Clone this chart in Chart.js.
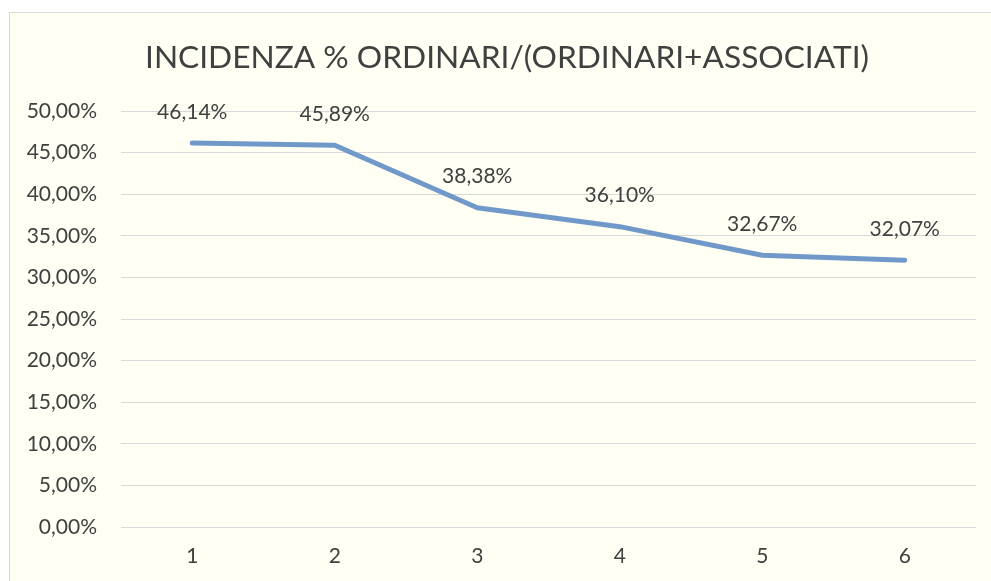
<!DOCTYPE html>
<html><head><meta charset="utf-8">
<script src="https://cdn.jsdelivr.net/npm/chart.js@4/dist/chart.umd.min.js"></script>
<style>html,body{margin:0;padding:0;background:#fff;}#wrap{width:991px;height:581px;position:relative;}</style>
</head><body><div id="wrap"><canvas id="c" width="991" height="581"></canvas></div>
<script>
const categories = ['1','2','3','4','5','6'];
const values = [46.14, 45.89, 38.38, 36.10, 32.67, 32.07];
const titleText = 'INCIDENZA % ORDINARI/(ORDINARI+ASSOCIATI)';
const fmt = v => v.toFixed(2).replace('.', ',') + '%';
const FONT = 'Lato, "Open Sans", sans-serif';
const TXT = '#404040';

const bgPlugin = {
  id: 'bg',
  beforeDraw(chart) {
    const ctx = chart.ctx;
    ctx.save();
    ctx.fillStyle = '#fffff4';
    ctx.fillRect(9.5, 12.5, chart.width, chart.height);
    ctx.strokeStyle = '#d9d9d9';
    ctx.lineWidth = 1;
    ctx.strokeRect(9.5, 12.5, chart.width, chart.height);
    ctx.restore();
  }
};
const titlePlugin = {
  id: 'ttl',
  afterDraw(chart) {
    const ctx = chart.ctx;
    ctx.save();
    ctx.font = '31.7px ' + FONT;
    ctx.fillStyle = TXT;
    ctx.textAlign = 'center';
    ctx.textBaseline = 'alphabetic';
    ctx.fillText(titleText, 507, 68);
    ctx.restore();
  }
};
const labelPlugin = {
  id: 'lbls',
  afterDatasetsDraw(chart) {
    const ctx = chart.ctx;
    const meta = chart.getDatasetMeta(0);
    ctx.save();
    ctx.font = '21px ' + FONT;
    ctx.fillStyle = TXT;
    ctx.textAlign = 'center';
    ctx.textBaseline = 'middle';
    meta.data.forEach((p, i) => {
      ctx.fillText(fmt(values[i]), p.x, p.y - 31);
    });
    ctx.restore();
  }
};

new Chart(document.getElementById('c'), {
  type: 'line',
  data: {
    labels: categories,
    datasets: [{
      data: values,
      borderColor: '#7099c9',
      borderWidth: 5,
      pointRadius: 0,
      tension: 0,
      borderCapStyle: 'round',
      borderJoinStyle: 'round'
    }]
  },
  options: {
    responsive: false,
    animation: false,
    devicePixelRatio: 1,
    layout: { padding: { left: 0, right: 15, top: 111, bottom: 0 } },
    plugins: {
      legend: { display: false },
      tooltip: { enabled: false },
      title: { display: false }
    },
    scales: {
      x: {
        offset: true,
        grid: { display: false, drawTicks: false },
        border: { display: false },
        ticks: { color: TXT, font: { family: FONT, size: 21 }, padding: 17 },
        afterFit: s => { s.height = 54; }
      },
      y: {
        min: 0, max: 50,
        grid: { color: '#d9d9d9', lineWidth: 1, drawTicks: false },
        border: { display: false },
        ticks: { stepSize: 5, color: TXT, font: { family: FONT, size: 21 }, padding: 24, callback: v => fmt(v) },
        afterFit: s => { s.width = 121; }
      }
    }
  },
  plugins: [bgPlugin, titlePlugin, labelPlugin]
});
</script>
</body></html>
